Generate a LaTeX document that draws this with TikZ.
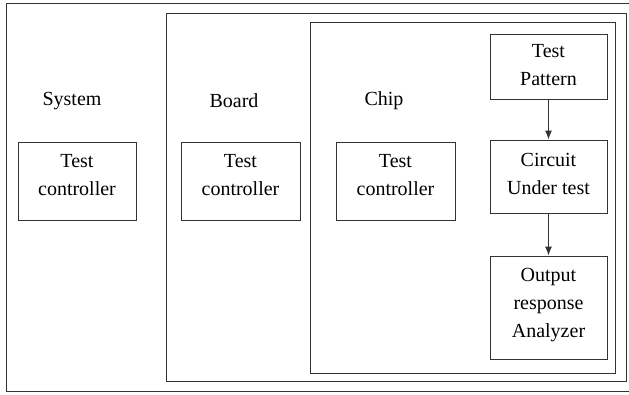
\documentclass[tikz,border=0pt]{standalone}
\usepackage{fontspec}
\setmainfont{Liberation Serif}
\usetikzlibrary{arrows.meta}
\begin{document}
\begin{tikzpicture}[x=1pt,y=-1pt,
  frame/.style={draw=black!80,line width=1pt},
  blk/.style={frame,rectangle,inner sep=0pt},
  txt/.style={inner sep=0pt,align=center,font=\fontsize{20}{28}\selectfont},
  lbl/.style={inner sep=0pt,font=\fontsize{20}{28}\selectfont},
  flow/.style={draw=black!80,line width=1pt,-{Latex[length=9pt,width=7pt]}}]
\useasboundingbox (0,0) rectangle (629,394);
\draw[frame] (6,3) rectangle (632,391);
\node[frame,inner sep=0pt,minimum width=460pt,minimum height=368pt] (board) at (396,197) {};
\node[frame,inner sep=0pt,minimum width=305pt,minimum height=351pt] (chip) at (462.5,197.5) {};
\node[lbl] (lsys) at (72,101) {System};
\node[lbl] (lboard) at (234,101) {Board};
\node[lbl] (lchip) at (384,101) {Chip};
\node[blk,minimum width=118pt,minimum height=78pt] (tc1) at (77,181) {};
\node[txt] (tc1t) at (77,175) {Test\\controller};
\node[blk,minimum width=119pt,minimum height=78pt] (tc2) at (240.5,181) {};
\node[txt] (tc2t) at (240.5,175) {Test\\controller};
\node[blk,minimum width=119pt,minimum height=78pt] (tc3) at (395.5,181) {};
\node[txt] (tc3t) at (395.5,175) {Test\\controller};
\node[blk,minimum width=117pt,minimum height=65pt] (tp) at (548.5,66.5) {};
\node[txt] (tpt) at (548.5,65.5) {Test\\Pattern};
\node[blk,minimum width=117pt,minimum height=73pt] (cut) at (548.5,176.5) {};
\node[txt] (cutt) at (548.5,173.5) {Circuit\\Under test};
\node[blk,minimum width=117pt,minimum height=103pt] (ora) at (548.5,307.5) {};
\node[txt] (orat) at (548.5,305.5) {Output\\response\\Analyzer};
\draw[flow] (tp) -- (cut);
\draw[flow] (cut) -- (ora);
\end{tikzpicture}
\end{document}
